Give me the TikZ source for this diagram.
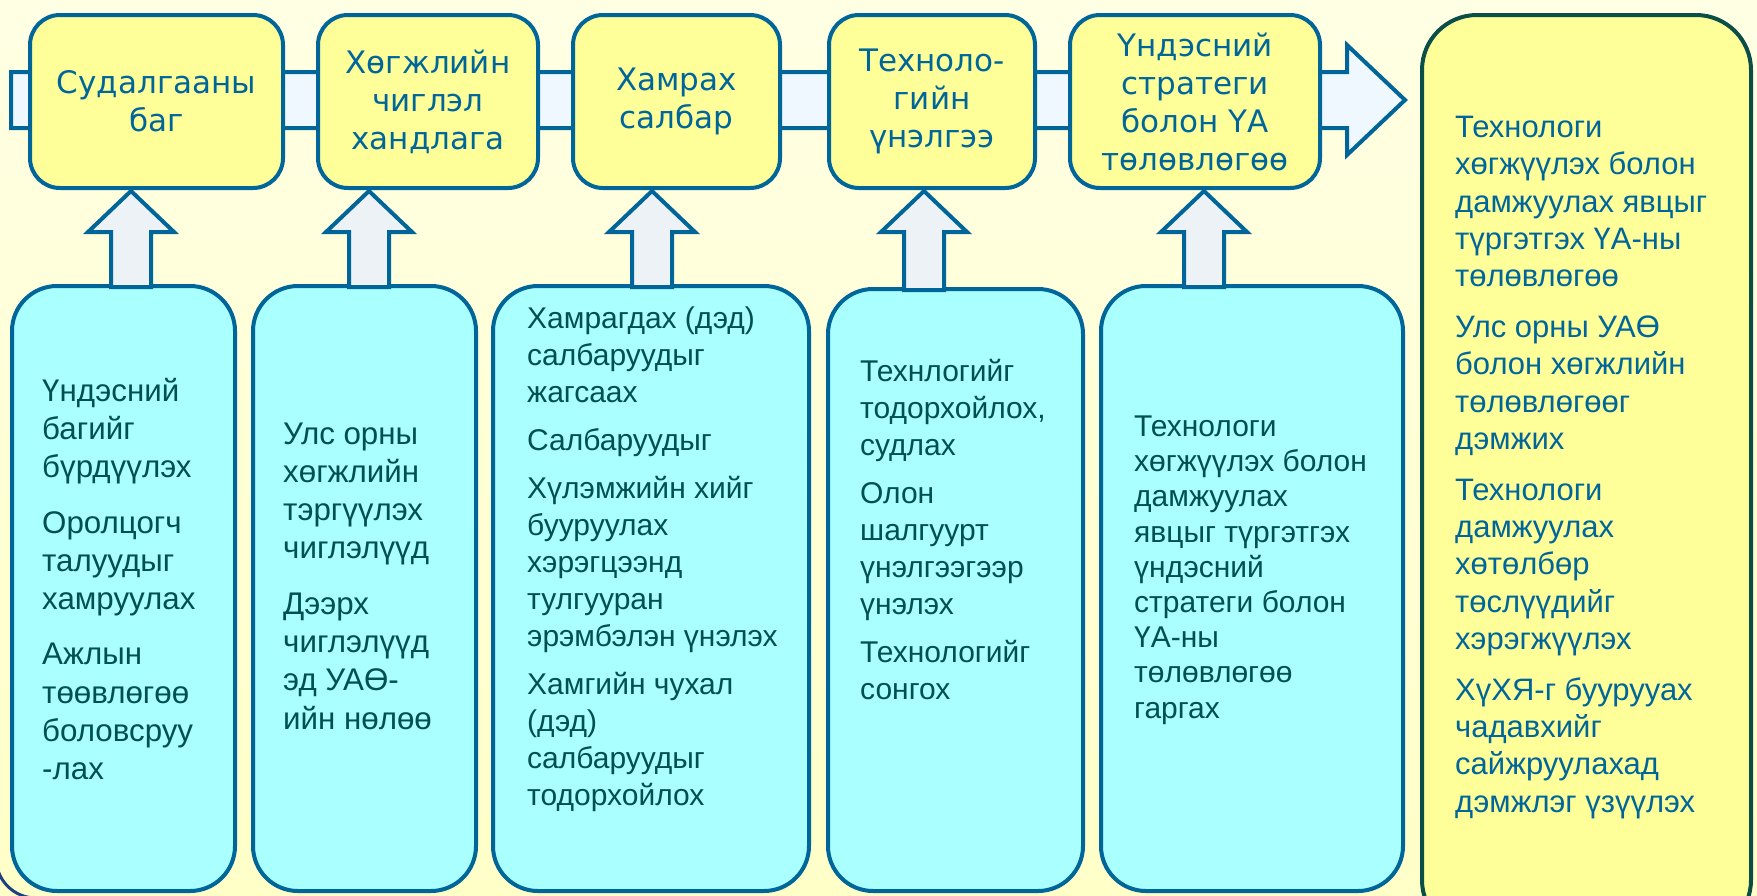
\documentclass[tikz,border=0pt]{standalone}
\usepackage{fontspec}
\setmainfont{Liberation Sans}
\newfontfamily\headfont{DejaVu Sans}
\usetikzlibrary{calc}
\definecolor{edgeblue}{HTML}{006699}
\definecolor{boxyellow}{HTML}{FFFF99}
\definecolor{boxcyan}{HTML}{AAFFFF}
\definecolor{darkteal}{HTML}{00504F}
\definecolor{paneledge}{HTML}{0B4D47}
\definecolor{bandfill}{HTML}{F0F8FF}
\definecolor{arrowfill}{HTML}{EDF2F6}
\definecolor{bgtop}{HTML}{FFFFE4}
\definecolor{bgbottom}{HTML}{FFFFC8}
\definecolor{frameblue}{HTML}{1F3F7F}
\begin{document}
\begin{tikzpicture}[x=1pt,y=-1pt]
 \tikzset{topbox/.style={draw=edgeblue, fill=boxyellow, line width=4pt, rounded corners=30pt, minimum height=173, align=center, text=edgeblue, font=\headfont\fontsize{31}{38}\selectfont}}
 \tikzset{lowbox/.style={draw=edgeblue, fill=boxcyan, line width=4pt, rounded corners=45pt, minimum height=605}}
 \tikzset{lowtext/.style={anchor=west, inner sep=0pt, align=left, text=darkteal, font=\fontsize{30}{37}\selectfont}}
 \tikzset{bigtext/.style={lowtext, font=\fontsize{31.3}{38.3}\selectfont}}
 \tikzset{panel/.style={draw=paneledge, fill=boxyellow, line width=4pt, rounded corners=55pt}}
 \tikzset{band/.style={draw=edgeblue, fill=bandfill, line width=4pt}}
 \tikzset{uparrow/.style={draw=edgeblue, fill=arrowfill, line width=4pt}}
 \def\gap{11pt}
 \def\biggap{17pt}
 \def\midgap{14pt}

 \useasboundingbox (0,0) rectangle (1757,895);
 \shade[top color=bgtop, bottom color=bgbottom] (0,0) rectangle (1757,895);
 \draw[line width=3pt, frameblue, rounded corners=40pt] (-4,600) -- (-4,898) -- (300,898);

 \coordinate (bandstart) at (11,100);
 \coordinate (tip) at (1405,100);
 \draw[band] ($(bandstart)+(0,-28)$) -- (1347,72) -- (1347,45) -- (tip) -- (1347,155) -- (1347,128) -- ($(bandstart)+(0,28)$) -- cycle;

 \node[topbox, minimum width=253] (T1) at (156.5,101.5) {Судалгааны\\баг};
 \node[topbox, minimum width=220] (T2) at (428,101.5) {Хөгжлийн\\чиглэл\\хандлага};
 \node[topbox, minimum width=207] (T3) at (676.5,101.5) {Хамрах\\салбар};
 \node[topbox, minimum width=206] (T4) at (932,101.5) {Техноло-\\гийн\\үнэлгээ};
 \node[topbox, minimum width=250] (T5) at (1195,101.5) {Үндэсний\\стратеги\\болон ҮА\\төлөвлөгөө};

 \node[lowbox, minimum width=223] (D1) at (123.5,588.5) {};
 \node[lowbox, minimum width=223] (D2) at (364.5,588.5) {};
 \node[lowbox, minimum width=316] (D3) at (651,588.5) {};
 \node[lowbox, minimum width=255, minimum height=602] (D4) at (955.5,590) {};
 \node[lowbox, minimum width=302] (D5) at (1252,588.5) {};
 \node[panel, minimum width=329, minimum height=920] (R) at (1586.5,475) {};

 \node[bigtext] (D1txt) at (42,579) {Үндэсний\\багийг\\бүрдүүлэх\\[\biggap]Оролцогч\\талуудыг\\хамруулах\\[\biggap]Ажлын\\төөвлөгөө\\боловсруу\\-лах};
 \node[bigtext] (D2txt) at (283,576) {Улс орны\\хөгжлийн\\тэргүүлэх\\чиглэлүүд\\[\biggap]Дээрх\\чиглэлүүд\\эд УАӨ-\\ийн нөлөө};
 \node[lowtext] (D3txt) at (527,559) {Хамрагдах (дэд)\\салбаруудыг\\жагсаах\\[\gap]Салбаруудыг\\[\gap]Хүлэмжийн хийг\\бууруулах\\хэрэгцээнд\\тулгууран\\эрэмбэлэн үнэлэх\\[\gap]Хамгийн чухал\\(дэд)\\салбаруудыг\\тодорхойлох};
 \node[lowtext] (D4txt) at (860,530) {Технлогийг\\тодорхойлох,\\судлах\\[\gap]Олон\\шалгуурт\\үнэлгээгээр\\үнэлэх\\[\gap]Технологийг\\сонгох};
 \node[lowtext, font=\fontsize{30}{35.2}\selectfont] (D5txt) at (1134,570) {Технологи\\хөгжүүлэх болон\\дамжуулах\\явцыг түргэтгэх\\үндэсний\\стратеги болон\\ҮА-ны\\төлөвлөгөө\\гаргах};
 \node[lowtext, text=edgeblue, font=\fontsize{31}{37.2}\selectfont] (Rtxt) at (1455,467.5) {Технологи\\хөгжүүлэх болон\\дамжуулах явцыг\\түргэтгэх ҮА-ны\\төлөвлөгөө\\[\midgap]Улс орны УАӨ\\болон хөгжлийн\\төлөвлөгөөг\\дэмжих\\[\midgap]Технологи\\дамжуулах\\хөтөлбөр\\төслүүдийг\\хэрэгжүүлэх\\[\midgap]ХүХЯ-г буурууах\\чадавхийг\\сайжруулахад\\дэмжлэг үзүүлэх};

 \foreach \i/\ax in {1/131,2/369,3/652,4/924,5/1204}{
  \coordinate (a\i) at (\ax,0);
  \draw[uparrow] ($(a\i|-D\i.north)+(-20,3)$) |- ($(a\i|-T\i.south)+(-43,42)$) -- ($(a\i|-T\i.south)+(0,1)$) -- ($(a\i|-T\i.south)+(43,42)$) -| ($(a\i|-D\i.north)+(20,3)$) -- cycle;
 }
\end{tikzpicture}
\end{document}
